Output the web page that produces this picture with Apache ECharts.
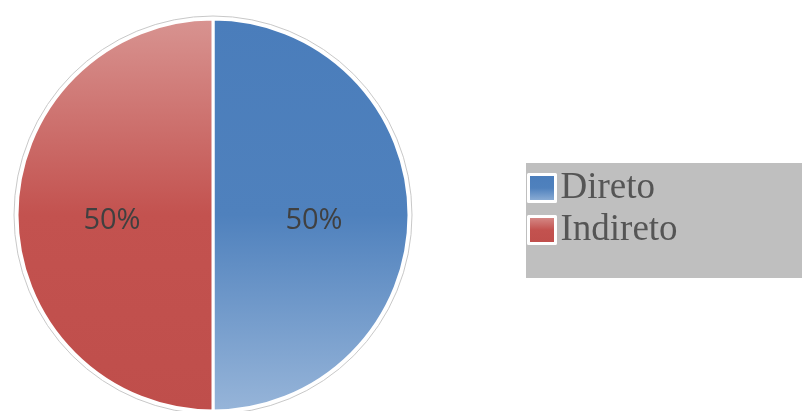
<!DOCTYPE html>
<html><head><meta charset="utf-8">
<script src="https://cdn.jsdelivr.net/npm/echarts@6/dist/echarts.min.js"></script>
<style>html,body{margin:0;padding:0;background:#fff;}#c{width:802px;height:411px;}</style>
</head><body><div id="c"></div>
<script>
const categories = ['Direto', 'Indireto'];
const values = [50, 50];
const percentLabels = ['50%', '50%'];

const gradients = [
  {type:'linear',x:0,y:0,x2:0,y2:1,colorStops:[{offset:0,color:'#4a7dbb'},{offset:0.5,color:'#4f81bd'},{offset:1,color:'#97b5d9'}]},
  {type:'linear',x:0,y:0,x2:0,y2:1,colorStops:[{offset:0,color:'#d89491'},{offset:0.5,color:'#c3524f'},{offset:1,color:'#bf4e4b'}]}
];

const chart = echarts.init(document.getElementById('c'));
chart.setOption({
  animation:false,
  legend:{
    orient:'vertical', left:526, top:163,
    backgroundColor:'#bfbfbf',
    padding:[4,130,27,1],
    itemGap:0,
    itemWidth:27, itemHeight:27,
    icon:'rect',
    itemStyle:{borderColor:'#ffffff', borderWidth:3},
    textStyle:{fontFamily:'Liberation Serif', fontSize:37, color:'#555555', lineHeight:42},
    data:categories
  },
  series:[
    {
      type:'pie', silent:true, center:[213,215], radius:199, z:1,
      label:{show:false}, labelLine:{show:false},
      itemStyle:{color:'#ffffff', borderColor:'#c8c8c8', borderWidth:1},
      data:[{value:values.reduce((a,b)=>a+b,0), name:'_ring'}],
      legendHoverLink:false
    },
    {
      type:'pie', center:[213,215], radius:196, startAngle:90, clockwise:true, z:2,
      itemStyle:{borderColor:'#ffffff', borderWidth:3},
      label:{show:true, position:'inside', fontFamily:'Open Sans', fontSize:29, color:'#404040',
        offset:[0,6], formatter:p=>percentLabels[p.dataIndex]},
      labelLine:{show:false},
      data:categories.map((n,i)=>({name:n, value:values[i], itemStyle:{color:gradients[i]}}))
    }
  ]
});
</script></body></html>
